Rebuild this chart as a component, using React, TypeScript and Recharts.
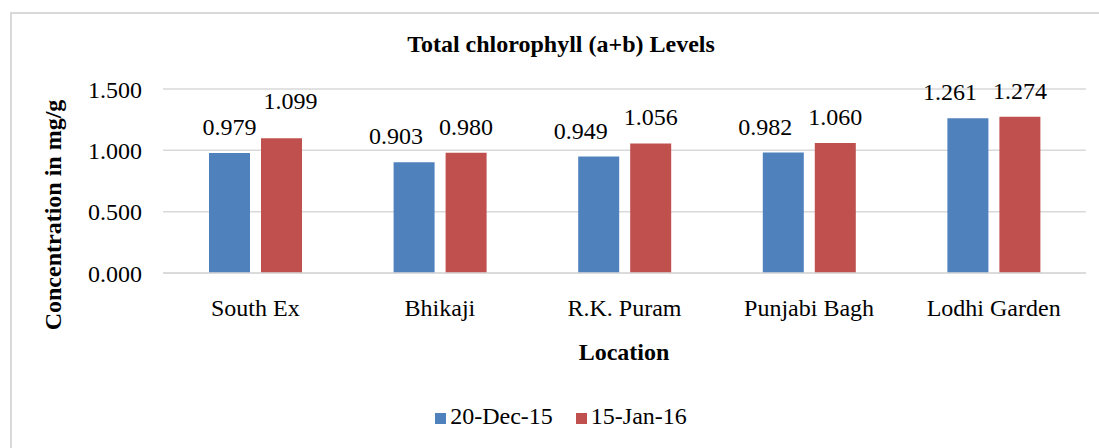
import React from 'react';
import { BarChart, Bar, XAxis, YAxis, CartesianGrid, Legend, LabelList } from 'recharts';

const locations = ['South Ex', 'Bhikaji', 'R.K. Puram', 'Punjabi Bagh', 'Lodhi Garden'];
const dec15 = [0.979, 0.903, 0.949, 0.982, 1.261];
const jan16 = [1.099, 0.98, 1.056, 1.06, 1.274];
const yTicks = [0, 0.5, 1.0, 1.5];

const data = locations.map((loc, i) => ({ loc, dec: dec15[i], jan: jan16[i] }));

const FONT = '"Liberation Serif", "Times New Roman", serif';
const fmt = (v: number) => Number(v).toFixed(3);

// Excel nudges the two labels of a group apart when they would collide
const renderLabel = (series: 'dec' | 'jan') => (props: any) => {
  const { x, y, width, height, value, index } = props;
  const pxPerUnit = value ? height / value : 0;
  const gap = (jan16[index] - dec15[index]) * pxPerUnit;
  let dx = 0;
  let dy = 0;
  if (gap < 14) {
    if (series === 'dec') dx = -18;
  } else if (series === 'jan') {
    dx = 9;
    dy = -11;
  }
  return (
    <text x={x + width / 2 + dx} y={y - 18 + dy} textAnchor="middle" fill="#000" fontSize={24} fontFamily={FONT}>
      {fmt(value)}
    </text>
  );
};

export default function App() {
  return (
    <div style={{ position: 'absolute', left: 0, top: 0, width: 1099, height: 448, background: '#fff', fontFamily: FONT, overflow: 'hidden' }}>
      <div style={{ position: 'absolute', left: 10, top: 12, width: 1100, height: 460, border: '2px solid #d9d9d9' }} />
      <div style={{ position: 'absolute', left: 0, top: 31, width: 1122, textAlign: 'center', fontWeight: 'bold', fontSize: 24, color: '#000' }}>
        Total chlorophyll (a+b) Levels
      </div>
      <div
        style={{
          position: 'absolute', left: 53, top: 215, transform: 'translate(-50%, -50%) rotate(-90deg)',
          whiteSpace: 'nowrap', fontWeight: 'bold', fontSize: 24, color: '#000',
        }}
      >
        Concentration in mg/g
      </div>
      <div style={{ position: 'absolute', left: 524, top: 339, width: 200, textAlign: 'center', fontWeight: 'bold', fontSize: 24, color: '#000' }}>
        Location
      </div>
      <BarChart
        width={1099}
        height={448}
        data={data}
        margin={{ top: 89, right: 13, left: 0, bottom: 88 }}
        barSize={41}
        barGap={11}
        style={{ fontFamily: FONT }}
      >
        <CartesianGrid vertical={false} stroke="#d9d9d9" strokeWidth={1.5} />
        <XAxis
          dataKey="loc"
          axisLine={{ stroke: '#d9d9d9', strokeWidth: 1.5 }}
          tickLine={false}
          tickSize={0}
          tickMargin={26}
          height={60}
          tick={{ fill: '#000', fontSize: 24, fontFamily: FONT }}
        />
        <YAxis
          width={163}
          domain={[0, 1.5]}
          ticks={yTicks}
          tickFormatter={fmt}
          axisLine={false}
          tickLine={false}
          tickSize={0}
          tickMargin={21}
          tick={{ fill: '#000', fontSize: 24, fontFamily: FONT }}
        />
        <Legend
          verticalAlign="bottom"
          iconType="square"
          iconSize={11}
          itemSorter="dataKey"
          wrapperStyle={{ position: 'absolute', top: 403, left: 0, width: 1132, fontSize: 24, fontFamily: FONT }}
          formatter={(value, _entry, index) => (
            <span style={{ color: '#000', marginRight: index === 0 ? 13 : 0 }}>{value}</span>
          )}
        />
        <Bar dataKey="dec" name="20-Dec-15" fill="#4F81BD" isAnimationActive={false}>
          <LabelList dataKey="dec" content={renderLabel('dec')} />
        </Bar>
        <Bar dataKey="jan" name="15-Jan-16" fill="#C0504D" isAnimationActive={false}>
          <LabelList dataKey="jan" content={renderLabel('jan')} />
        </Bar>
      </BarChart>
    </div>
  );
}
